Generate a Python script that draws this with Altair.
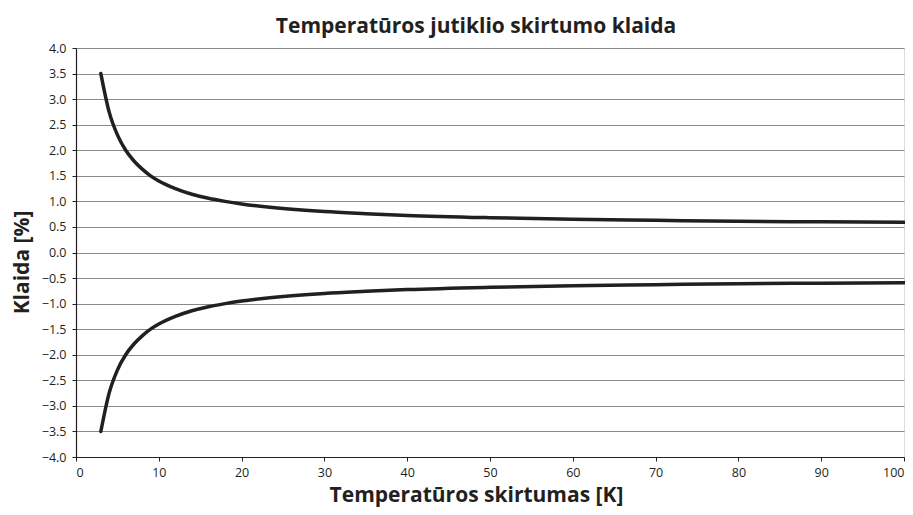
import altair as alt
import pandas as pd

# Temperature difference [K]
dt = [3, 4, 5, 6, 7, 8, 9, 10, 12, 14, 16, 18, 20, 25, 30, 35, 40, 50, 60, 70, 80, 90, 100]
# Upper error limit [%]
upper = [3.5, 2.75, 2.3, 2.0, 1.79, 1.63, 1.5, 1.4, 1.25, 1.14, 1.06, 1.0, 0.95, 0.86, 0.8, 0.76, 0.725, 0.68, 0.65, 0.63, 0.61, 0.6, 0.59]
# Lower error limit [%]
lower = [-3.5, -2.75, -2.3, -2.0, -1.79, -1.63, -1.5, -1.4, -1.25, -1.14, -1.06, -1.0, -0.95, -0.86, -0.8, -0.76, -0.725, -0.68, -0.65, -0.63, -0.61, -0.6, -0.59]

x_ticks = list(range(0, 101, 10))
y_ticks = [v / 2 for v in range(-8, 9)]

df = pd.concat([
    pd.DataFrame({"dt": dt, "err": upper, "series": "upper"}),
    pd.DataFrame({"dt": dt, "err": lower, "series": "lower"}),
])

FONT = "Open Sans"
INK = "#231f20"

line = alt.Chart(df).mark_line(
    color=INK, strokeWidth=3.5, interpolate="monotone", strokeCap="round"
).encode(
    x=alt.X("dt:Q",
            scale=alt.Scale(domain=[0, 100], nice=False, zero=False),
            axis=alt.Axis(values=x_ticks, format="d", grid=False,
                          title="Temperatūros skirtumas [K]",
                          titleFontSize=21, titleFontWeight="bold",
                          titleColor=INK, titleFont=FONT,
                          titleX=400, titleY=44, titleAnchor="middle",
                          titleBaseline="alphabetic",
                          labelFontSize=12.5, labelFont=FONT, labelColor=INK,
                          labelPadding=5, tickSize=4, tickColor=INK,
                          domainColor=INK, domainWidth=1.2)),
    y=alt.Y("err:Q",
            scale=alt.Scale(domain=[-4, 4], nice=False, zero=False),
            axis=alt.Axis(values=y_ticks, format=".1f",
                          gridColor="#8a8a8a", gridWidth=1.2,
                          title="Klaida [%]",
                          titleFontSize=21, titleFontWeight="bold",
                          titleColor=INK, titleFont=FONT,
                          titleX=-54, titleY=214, titleAnchor="middle",
                          titleAngle=270, titleBaseline="middle",
                          labelFontSize=12.5, labelFont=FONT, labelColor=INK,
                          labelPadding=6, tickSize=4, tickColor=INK,
                          domainColor=INK, domainWidth=1.2)),
    detail="series:N",
)

chart = line.properties(
    width=828,
    height=409,
    title=alt.TitleParams(
        "Temperatūros jutiklio skirtumo klaida",
        fontSize=21, fontWeight="bold", font=FONT, color=INK,
        anchor="middle", dx=-14, offset=5,
    ),
    autosize=alt.AutoSizeParams(type="none"),
    padding={"left": 68, "top": 40, "right": 1, "bottom": 50},
).configure_view(
    stroke="#666666", strokeWidth=1.5
).configure(background="white")

chart.save("out.html", embed_options={"renderer": "svg", "actions": False})
